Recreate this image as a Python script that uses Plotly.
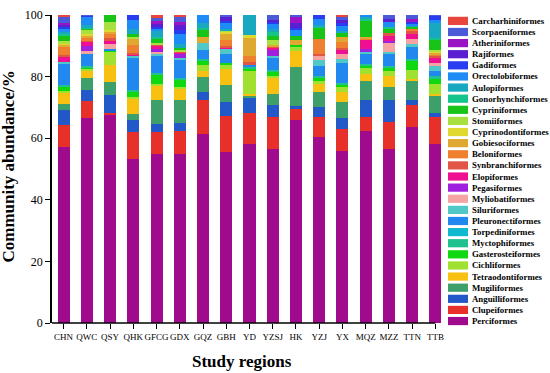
import plotly.graph_objects as go

regions = ["CHN", "QWC", "QSY", "QHK", "GFCG", "GDX", "GQZ", "GBH", "YD", "YZSJ",
           "HK", "YZJ", "YX", "MQZ", "MZZ", "TTN", "TTB"]

# values (%) per order, in region order; stacking order bottom -> top
Perciformes = [57.2, 66.7, 67.6, 53.3, 54.9, 54.9, 61.3, 55.5, 58.1, 56.5, 66.0, 60.3, 55.9, 62.2, 56.5, 63.5, 58.0]
Clupeiformes = [7.2, 5.4, 0.5, 8.6, 7.0, 7.3, 11.1, 11.6, 10.2, 10.5, 3.8, 6.7, 7.0, 4.8, 8.6, 7.3, 8.9]
Anguilliformes = [4.8, 3.7, 5.8, 4.1, 2.6, 2.8, 2.6, 4.8, 5.0, 3.7, 0.5, 3.2, 3.8, 5.3, 7.3, 1.5, 1.3]
Mugiliformes = [2.0, 3.7, 4.2, 2.0, 7.9, 7.3, 4.8, 5.3, 0.5, 3.7, 12.7, 4.8, 5.0, 6.4, 4.2, 6.4, 5.7]
Tetraodontiformes = [3.7, 2.6, 5.8, 4.8, 4.8, 3.7, 2.0, 5.3, 0.5, 5.3, 5.3, 2.6, 3.2, 2.0, 3.7, 0.5, 0.5]
Cichliformes = [0.5, 0.5, 4.2, 0.5, 0.5, 0.5, 2.0, 1.5, 7.4, 0.5, 1.5, 1.0, 2.0, 2.0, 1.5, 3.0, 3.2]
Gasterosteiformes = [1.5, 0.5, 0.5, 2.0, 3.0, 2.6, 1.5, 0.5, 1.0, 1.6, 0.5, 1.0, 0.5, 1.0, 1.0, 3.0, 1.6]
Myctophiformes = [0.5, 0.5, 0, 0.5, 0.5, 0.5, 0.5, 0, 0.5, 0.5, 0, 0.5, 0.5, 0.5, 0.5, 0.5, 1.0]
Torpediniformes = [0, 0, 0, 0, 0, 0, 0, 0, 0, 0, 0, 0, 0, 0, 0, 0, 0]
Pleuronectiformes = [7.0, 3.7, 0.5, 10.5, 5.8, 5.8, 3.0, 3.0, 0.5, 4.0, 0, 3.2, 6.4, 3.2, 4.2, 4.0, 1.6]
Siluriformes = [0.5, 0, 0, 0.5, 0.5, 0.5, 2.0, 1.5, 0, 0.5, 0, 2.0, 1.5, 0.5, 0.5, 1.0, 1.6]
Myliobatiformes = [0, 1.0, 1.5, 0, 0.5, 0, 0, 0, 0, 0, 0, 1.5, 1.5, 0, 3.2, 1.5, 1.0]
Pegasiformes = [0, 1.5, 0, 0, 1.0, 1.5, 0, 0, 0, 2.0, 0, 0, 0, 1.0, 0.5, 0, 0]
Elopiformes = [1.5, 1.5, 1.0, 0.5, 1.0, 0.5, 0, 0.5, 0, 0.5, 0, 0, 1.5, 3.0, 1.5, 1.5, 1.9]
Synbranchiformes = [0.5, 0.3, 1.0, 0.5, 0.5, 0.3, 0, 0.5, 1.0, 0.5, 0, 0.5, 0.5, 0, 1.0, 1.0, 0.5]
Beloniformes = [3.0, 1.2, 1.5, 2.6, 0, 0, 0, 2.0, 2.0, 0, 0, 4.8, 2.0, 0.5, 0, 1.0, 0.5]
Gobiesociformes = [0.5, 0.5, 0.5, 2.0, 0, 0, 2.0, 2.0, 5.8, 0.5, 1.5, 0, 1.5, 0.5, 0, 0, 0.5]
Cyprinodontiformes = [0.5, 0.5, 0.5, 0, 0, 0, 0, 0.5, 1.0, 0, 0, 0, 0, 0, 0, 0, 0.5]
Stomiiformes = [0.5, 1.5, 2.6, 0.5, 0.5, 0.5, 0, 0.5, 0, 1.5, 0, 0, 0, 0, 0, 0, 0.5]
Cypriniformes = [2.0, 0.3, 2.2, 1.0, 1.5, 0.5, 2.6, 0, 0, 1.5, 1.5, 3.7, 1.5, 5.3, 1.5, 0.5, 3.2]
Gonorhynchiformes = [0.5, 0.3, 0, 0, 0.5, 0, 0.5, 0, 0, 1.5, 0, 0.5, 0, 0.5, 0.5, 0, 0.5]
Aulopiformes = [0.5, 1.0, 0, 1.5, 2.0, 1.5, 1.5, 0.5, 6.5, 0.5, 0, 0.5, 0.5, 0.5, 0, 0.5, 4.8]
Orectolobiformes = [1.0, 2.5, 0, 3.0, 0.5, 3.0, 2.6, 2.1, 0, 2.0, 2.0, 2.0, 1.5, 0.8, 1.5, 0.5, 1.0]
Gadiformes = [1.0, 0.3, 0, 1.6, 0.5, 1.5, 0, 0.4, 0, 0.5, 0.5, 1.2, 1.0, 0, 0, 0.5, 1.5]
Rajiformes = [0.5, 0, 0, 0, 1.0, 1.5, 0, 1.5, 0, 0.5, 1.5, 0, 1.0, 0, 1.0, 0, 0]
Atheriniformes = [0.5, 0, 0, 0, 1.0, 1.0, 0, 0, 0, 0, 2.0, 0, 0, 0, 0, 1.0, 0]
Scorpaeniformes = [2.1, 0.3, 0, 0, 1.0, 1.5, 0, 0.5, 0, 1.7, 0.7, 0, 1.2, 0, 1.3, 1.3, 0.2]
Carcharhiniformes = [0.5, 0, 0, 0, 1.0, 0.8, 0, 0, 0, 0, 0, 0, 0.5, 0, 0, 0, 0]

orders = [
    ("Perciformes", Perciformes, "#A00A8C"),
    ("Clupeiformes", Clupeiformes, "#E8302A"),
    ("Anguilliformes", Anguilliformes, "#2258C8"),
    ("Mugiliformes", Mugiliformes, "#3DA06A"),
    ("Tetraodontiformes", Tetraodontiformes, "#F8C010"),
    ("Cichliformes", Cichliformes, "#A0E030"),
    ("Gasterosteiformes", Gasterosteiformes, "#10D810"),
    ("Myctophiformes", Myctophiformes, "#20C090"),
    ("Torpediniformes", Torpediniformes, "#10B8D0"),
    ("Pleuronectiformes", Pleuronectiformes, "#2088EE"),
    ("Siluriformes", Siluriformes, "#50C8C8"),
    ("Myliobatiformes", Myliobatiformes, "#F5A3A3"),
    ("Pegasiformes", Pegasiformes, "#A020E0"),
    ("Elopiformes", Elopiformes, "#EE1090"),
    ("Synbranchiformes", Synbranchiformes, "#E05545"),
    ("Beloniformes", Beloniformes, "#EE8030"),
    ("Gobiesociformes", Gobiesociformes, "#E0A830"),
    ("Cyprinodontiformes", Cyprinodontiformes, "#E0DA30"),
    ("Stomiiformes", Stomiiformes, "#A8E040"),
    ("Cypriniformes", Cypriniformes, "#18C418"),
    ("Gonorhynchiformes", Gonorhynchiformes, "#14C48A"),
    ("Aulopiformes", Aulopiformes, "#18A8C0"),
    ("Orectolobiformes", Orectolobiformes, "#1E8CF5"),
    ("Gadiformes", Gadiformes, "#2A3CF0"),
    ("Rajiformes", Rajiformes, "#5A1FD0"),
    ("Atheriniformes", Atheriniformes, "#9A14C4"),
    ("Scorpaeniformes", Scorpaeniformes, "#4B5BD8"),
    ("Carcharhiniformes", Carcharhiniformes, "#E8453C"),
]

yticks = [0, 20, 40, 60, 80, 100]
FONT = "Liberation Serif, Times New Roman, serif"

fig = go.Figure()
for name, vals, col in orders:
    fig.add_trace(go.Bar(x=regions, y=vals, name=name, marker=dict(color=col, line=dict(width=0)),
                         showlegend=False))

W, H = 550, 373
ml, mr, mt, mb = 52, 103, 8, 50
pw, ph = W - ml - mr, H - mt - mb

def px_x(x):
    return (x - ml) / pw

def px_y(y):
    return (H - mb - y) / ph

# manual legend (top = last stacked order)
legend_items = list(reversed(orders))
top_c, bot_c = 14.0, 321.0
step = (bot_c - top_c) / (len(legend_items) - 1)
shapes = []
annotations = []
for i, (name, vals, col) in enumerate(legend_items):
    yc = top_c + i * step
    yp = px_y(yc)
    hh = 4.2 / ph
    shapes.append(dict(type="rect", xref="paper", yref="paper", x0=px_x(448), x1=px_x(468),
                       y0=yp - hh, y1=yp + hh, fillcolor=col, line=dict(width=0)))
    annotations.append(dict(xref="paper", yref="paper", x=px_x(470), y=yp,
                            xanchor="left", yanchor="middle", showarrow=False,
                            text="<b>%s</b>" % name,
                            font=dict(family=FONT, size=8.8, color="black")))

# axis titles
annotations.append(dict(xref="paper", yref="paper", x=px_x(242), y=px_y(362),
                        xanchor="center", yanchor="middle", showarrow=False,
                        text="<b>Study regions</b>",
                        font=dict(family=FONT, size=17, color="black")))
annotations.append(dict(xref="paper", yref="paper", x=px_x(9), y=px_y(163),
                        xanchor="center", yanchor="middle", showarrow=False, textangle=-90,
                        text="<b>Community abundance/%</b>",
                        font=dict(family=FONT, size=17, color="black")))

# x axis line ending at the last category
shapes.append(dict(type="line", xref="x", yref="paper", x0=-0.5, x1=len(regions) - 1,
                   y0=0, y1=0, line=dict(color="black", width=1.5)))

fig.update_layout(
    width=W, height=H,
    margin=dict(l=ml, r=mr, t=mt, b=mb),
    barmode="stack", bargap=0.48,
    plot_bgcolor="white", paper_bgcolor="white",
    shapes=shapes, annotations=annotations,
    font=dict(family=FONT, color="black"),
    xaxis=dict(
        type="category", range=[-0.5, len(regions) - 0.5],
        showline=False, ticks="outside", ticklen=5, tickwidth=1.2, tickcolor="black",
        tickangle=0,
        tickfont=dict(family=FONT, size=9, color="black"),
        showgrid=False, zeroline=False,
    ),
    yaxis=dict(
        range=[0, 100], tickvals=yticks, ticktext=[str(v) for v in yticks],
        showline=True, linecolor="black", linewidth=1.5,
        ticks="outside", ticklen=5, tickwidth=1.2, tickcolor="black",
        tickfont=dict(family=FONT, size=12, color="black"),
        showgrid=False, zeroline=False,
    ),
)

fig.write_html("out.html", config={"displayModeBar": False},
               post_script="document.body.style.margin='0';document.body.style.overflow='hidden';")
